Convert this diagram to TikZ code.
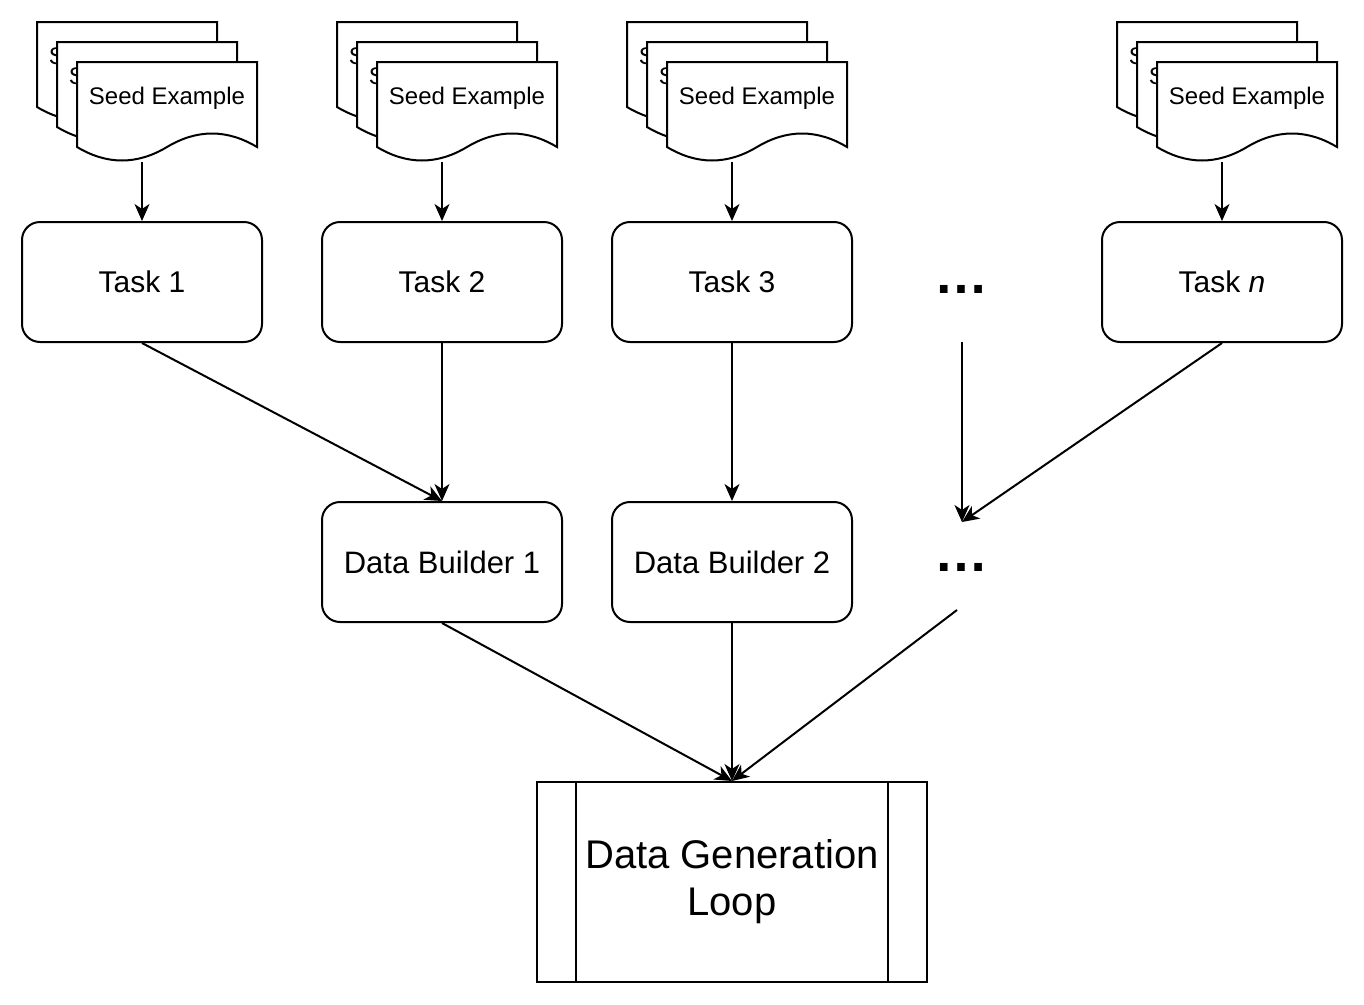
\documentclass[tikz,border=0pt]{standalone}
\usepackage{fontspec}
\setmainfont{Liberation Sans}
\usetikzlibrary{arrows.meta}
\begin{document}
\begin{tikzpicture}[x=1pt,y=-1pt,
  every path/.style={line width=2pt},
  ln/.style={line width=2pt,-{Stealth[length=17pt,width=15pt,inset=5pt]}},
  sheet/.style={draw=black,fill=white,line width=2pt,line join=miter},
  seedtext/.style={inner sep=0pt,font=\fontsize{24}{28}\selectfont},
  taskbox/.style={draw,line width=2pt,rounded corners=18pt,minimum width=240pt,minimum height=120pt,font=\fontsize{30}{35}\selectfont},
  dots/.style={inner sep=0pt,anchor=base,font=\fontsize{54}{54}\selectfont\bfseries}]
\useasboundingbox (0,0) rectangle (1364,1004);
% seed example stacks
\foreach \sx [count=\k] in {37,337,627,1117}{
  \foreach \d in {0,20,40}{
    \pgfmathsetmacro{\X}{\sx+\d}
    \pgfmathsetmacro{\Y}{22+\d}
    \path[sheet] (\X,\Y) -- ++(180,0) -- ++(0,85)
      .. controls ++(-30,-18) and ++(30,-18) .. ++(-90,0)
      .. controls ++(-30,18) and ++(30,18) .. ++(-90,0) -- cycle;
    \node[seedtext] (seed\k-\d) at (\X+90,\Y+36) {Seed Example};
  }
  \coordinate (sb\k) at (\sx+105,162);
}
% tasks
\node[taskbox] (t1) at (142,282) {Task 1};
\node[taskbox] (t2) at (442,282) {Task 2};
\node[taskbox] (t3) at (732,282) {Task 3};
\node[taskbox] (tn) at (1222,282) {Task \textit{n}};
\node[dots] (dots1) at (961,293) {…};
% builders
\node[taskbox,font=\fontsize{31}{36}\selectfont] (b1) at (442,562) {Data Builder 1};
\node[taskbox,font=\fontsize{31}{36}\selectfont] (b2) at (732,562) {Data Builder 2};
\node[dots] (dots2) at (961,571) {…};
% loop
\node[draw,line width=2pt,minimum width=390pt,minimum height=200pt,align=center,
  font=\fontsize{40}{47}\selectfont] (loop) at (732,882) {Data Generation\\Loop};
\draw[line width=2pt] ([xshift=40pt]loop.north west) -- ([xshift=40pt]loop.south west);
\draw[line width=2pt] ([xshift=-40pt]loop.north east) -- ([xshift=-40pt]loop.south east);
% connector points
\coordinate (d1s) at (962,342);
\coordinate (d2t) at (962,522);
\coordinate (d2s) at (957,610);
% arrows
\draw[ln] (sb1) -- (t1.north);
\draw[ln] (sb2) -- (t2.north);
\draw[ln] (sb3) -- (t3.north);
\draw[ln] (sb4) -- (tn.north);
\draw[ln] (t1.south) -- (b1.north);
\draw[ln] (t2.south) -- (b1.north);
\draw[ln] (t3.south) -- (b2.north);
\draw[ln] (d1s) -- (d2t);
\draw[ln] (tn.south) -- (d2t);
\draw[ln] (b1.south) -- (loop.north);
\draw[ln] (b2.south) -- (loop.north);
\draw[ln] (d2s) -- (loop.north);
\end{tikzpicture}
\end{document}
